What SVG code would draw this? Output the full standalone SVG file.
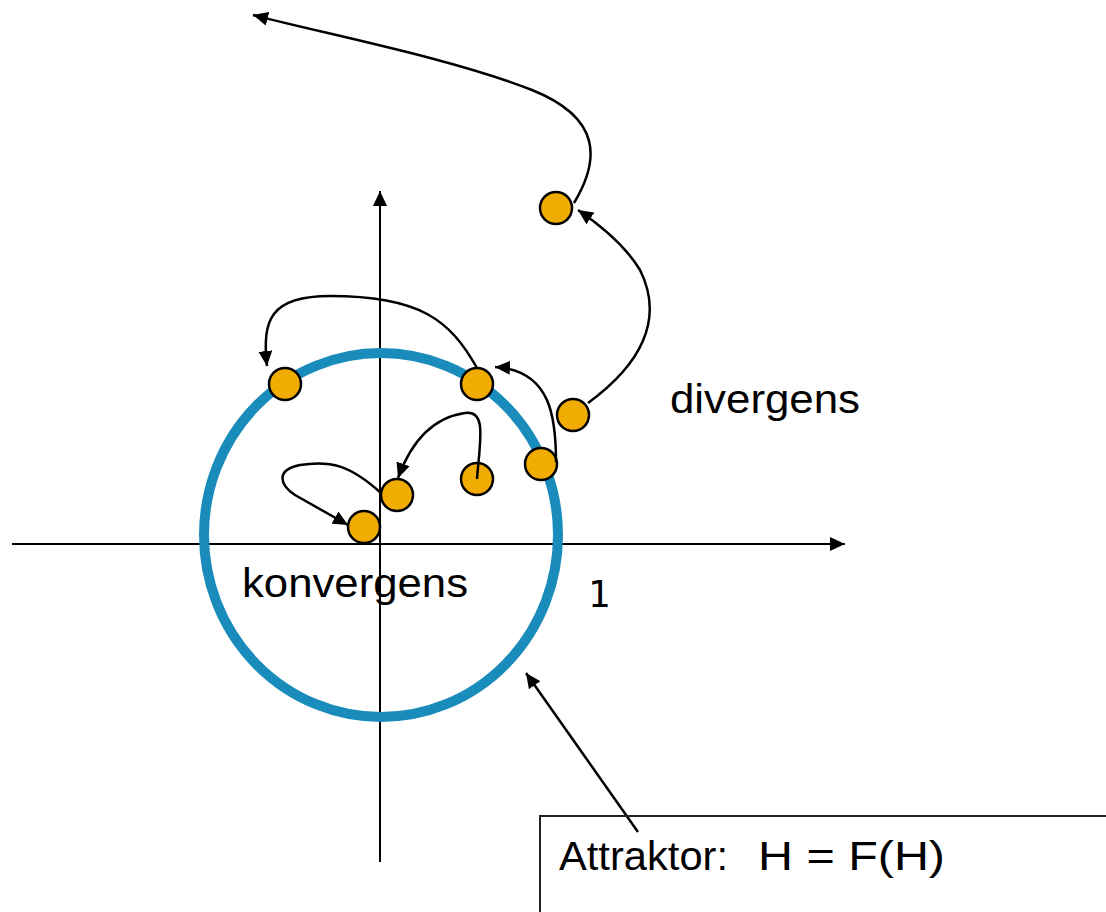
<svg xmlns="http://www.w3.org/2000/svg" width="1106" height="912" viewBox="0 0 1106 912">
<defs>
<marker id="ah" markerUnits="userSpaceOnUse" markerWidth="16" markerHeight="14" refX="15" refY="7" orient="auto">
<path d="M0,0 L15,7 L0,14 z" fill="#000"/>
</marker>
<style>
.ax{stroke:#000;stroke-width:2;fill:none}
.cn{stroke:#000;stroke-width:2.5;fill:none}
.nd{fill:#F0AC00;stroke:#000;stroke-width:2.5}
.lb{font-family:"Liberation Sans",Arial,sans-serif;font-size:40px;fill:#000}
</style>
</defs>
<rect width="1106" height="912" fill="#fff"/>
<g id="axes">
<line class="ax" x1="12" y1="544" x2="845" y2="544" marker-end="url(#ah)"/>
<line class="ax" x1="380" y1="862" x2="380" y2="191" marker-end="url(#ah)"/>
</g>
<g id="attractor-circle">
<ellipse cx="381" cy="535" rx="177" ry="182" fill="none" stroke="#1A8CBC" stroke-width="10"/>
</g>
<g id="n1"><circle class="nd" cx="556" cy="208" r="16"/></g>
<g id="n2"><circle class="nd" cx="573" cy="415" r="16"/></g>
<g id="n3"><circle class="nd" cx="285" cy="384" r="16"/></g>
<g id="n4"><circle class="nd" cx="477" cy="384" r="16"/></g>
<g id="n5"><circle class="nd" cx="541" cy="464" r="16"/></g>
<g id="n6"><circle class="nd" cx="477" cy="479" r="16"/></g>
<g id="n7"><circle class="nd" cx="397" cy="495" r="16"/></g>
<g id="n8"><circle class="nd" cx="364" cy="527" r="16"/></g>
<g id="connectors">
<path class="cn" d="M574,203 C600,160 602,118 532,90 C450,58 330,35 253,15" marker-end="url(#ah)"/>
<path class="cn" d="M588,403 C640,365 665,320 640,270 C625,245 600,225 578,210" marker-end="url(#ah)"/>
<path class="cn" d="M477,368 C450,320 420,296 330,296 C270,296 262,320 267,366" marker-end="url(#ah)"/>
<path class="cn" d="M556,462 C556,420 552,370 495,367" marker-end="url(#ah)"/>
<path class="cn" d="M477,479 C480,440 487,410 465,413 C430,418 410,445 398,478" marker-end="url(#ah)"/>
<path class="cn" d="M381,493 C350,465 330,460 300,465 C275,470 280,485 295,495 L348,525" marker-end="url(#ah)"/>
<line class="cn" x1="638" y1="832" x2="526" y2="673" stroke-width="2" marker-end="url(#ah)"/>
</g>
<g id="labels">
<text class="lb" x="670" y="413" textLength="190" lengthAdjust="spacingAndGlyphs">divergens</text>
<text class="lb" x="242" y="597" textLength="226" lengthAdjust="spacingAndGlyphs">konvergens</text>
<text x="599" y="607" text-anchor="middle" font-family="DejaVu Sans Mono,monospace" font-size="37">1</text>
</g>
<g id="attractor-box">
<rect x="540" y="816" width="600" height="200" fill="none" stroke="#222" stroke-width="2"/>
<text class="lb" y="870"><tspan x="559" textLength="169" lengthAdjust="spacingAndGlyphs">Attraktor:</tspan><tspan x="758" textLength="187" lengthAdjust="spacingAndGlyphs">H = F(H)</tspan></text>
</g>
</svg>
